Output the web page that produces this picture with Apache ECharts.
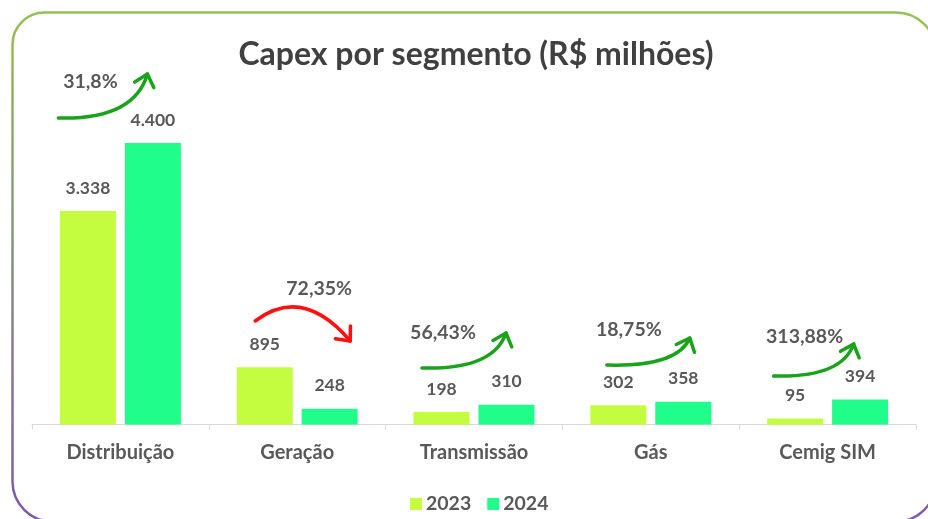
<!DOCTYPE html>
<html>
<head>
<meta charset="utf-8">
<script src="https://cdn.jsdelivr.net/npm/echarts@6/dist/echarts.min.js"></script>
<style>html,body{margin:0;padding:0;background:#fff}#c{width:928px;height:519px}</style>
</head>
<body>
<div id="c"></div>
<script>
// ---- data ----
const categories = ['Distribuição', 'Geração', 'Transmissão', 'Gás', 'Cemig SIM'];
const values2023 = [3338, 895, 198, 302, 95];
const values2024 = [4400, 248, 310, 358, 394];
const growthLabels = ['31,8%', '72,35%', '56,43%', '18,75%', '313,88%'];
const growthUp = [true, false, true, true, true];

// ---- layout of the annotations (pixel offsets from category centre) ----
const annot = [
  {tx: -30, ty: 82,  a: [-62, 118], b: [27, 74]},
  {tx: 22,  ty: 289, a: [-42, 321], b: [53, 341]},
  {tx: -31, ty: 333, a: [-52, 368], b: [32, 333]},
  {tx: -22, ty: 330, a: [-44, 365], b: [39, 338]},
  {tx: -23, ty: 337, a: [-54, 376], b: [26, 344]}
];

const C23 = '#c4fd40', C24 = '#20fd8b', TXT = '#595959';
const FONT = 'Lato, "Open Sans", sans-serif';
const fmt = v => v.toLocaleString('de-DE');

const chart = echarts.init(document.getElementById('c'), null, {renderer: 'canvas'});

const option = {
  animation: false,
  backgroundColor: '#fff',
  title: {
    text: 'Capex por segmento (R$ milhões)',
    left: 471, top: 34, textAlign: 'center',
    textStyle: {fontFamily: FONT, fontWeight: 'bold', fontSize: 32, color: '#404040'}
  },
  legend: {
    data: ['2023', '2024'],
    left: 405, top: 489,
    itemWidth: 12, itemHeight: 12, itemGap: 16,
    icon: 'rect',
    textStyle: {fontFamily: FONT, fontWeight: 'bold', fontSize: 19.5, color: TXT, padding: [0, 0, 0, -1]}
  },
  grid: {left: 32, right: 12, top: 104.6, bottom: 94.4},
  xAxis: {
    type: 'category', data: categories,
    axisLine: {lineStyle: {color: '#d9d9d9', width: 1}},
    axisTick: {show: true, length: 5, lineStyle: {color: '#d9d9d9'}},
    axisLabel: {fontFamily: FONT, fontWeight: 'bold', fontSize: 20, color: TXT, margin: 18}
  },
  yAxis: {type: 'value', min: 0, max: 5000, show: false, splitLine: {show: false}},
  series: [
    {name: '2023', type: 'bar', data: values2023, barWidth: 56, barGap: '16%',
     itemStyle: {color: C23},
     label: {show: true, position: 'top', distance: 14, formatter: p => fmt(p.value),
             fontFamily: FONT, fontWeight: 'bold', fontSize: 17.5, color: TXT}},
    {name: '2024', type: 'bar', data: values2024, barWidth: 56,
     itemStyle: {color: C24},
     label: {show: true, position: 'top', distance: 14, formatter: p => fmt(p.value),
             fontFamily: FONT, fontWeight: 'bold', fontSize: 17.5, color: TXT}}
  ]
};
chart.setOption(option);

function arrow(x1, y1, x2, y2, up, color) {
  let cx, cy;
  if (up) { cx = x2 - 0.15 * (x2 - x1); cy = y1 + 2; }
  else { cx = (x1 + x2) / 2; cy = Math.min(y1, y2) - 36; }
  const ang = Math.atan2(y2 - cy, x2 - cx);
  const L = 15, spread = 0.72;
  const p1 = [x2 - L * Math.cos(ang - spread), y2 - L * Math.sin(ang - spread)];
  const p2 = [x2 - L * Math.cos(ang + spread), y2 - L * Math.sin(ang + spread)];
  const st = {stroke: color, lineWidth: 3.5, fill: null, lineCap: 'round', lineJoin: 'round'};
  return [
    {type: 'bezierCurve', shape: {x1, y1, x2, y2, cpx1: cx, cpy1: cy}, style: st, z: 10},
    {type: 'polyline', shape: {points: [p1, [x2, y2], p2]}, style: st, z: 10}
  ];
}

const graphics = [{
  type: 'rect', z: -1, silent: true,
  shape: {x: 12.5, y: 12.5, width: 923.5, height: 509, r: [32, 40, 40, 40]},
  style: {
    fill: null, lineWidth: 2.5,
    stroke: new echarts.graphic.LinearGradient(0, 0, 0, 1, [
      {offset: 0, color: '#92c353'}, {offset: 1, color: '#7c58b0'}
    ])
  }
}];
categories.forEach((c, i) => {
  const cx = chart.convertToPixel({xAxisIndex: 0}, c);
  const an = annot[i];
  const col = growthUp[i] ? '#1ba21b' : '#ff1010';
  graphics.push({
    type: 'text', z: 11,
    style: {x: cx + an.tx, y: an.ty, text: growthLabels[i], align: 'center', verticalAlign: 'middle',
            font: 'bold 19.5px ' + FONT, fill: TXT}
  });
  graphics.push(...arrow(cx + an.a[0], an.a[1], cx + an.b[0], an.b[1], growthUp[i], col));
});
chart.setOption({graphic: graphics});
</script>
</body>
</html>
